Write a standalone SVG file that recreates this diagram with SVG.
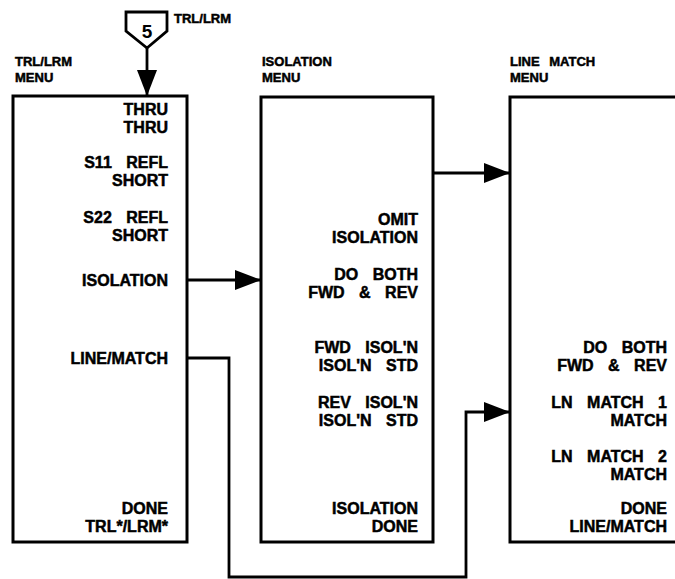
<svg xmlns="http://www.w3.org/2000/svg" width="675" height="579" viewBox="0 0 675 579">
<defs>
<style>
.box{fill:none;stroke:#000;stroke-width:3}
.ln{fill:none;stroke:#000;stroke-width:2.8}
.t{font-family:"Liberation Sans",Arial,sans-serif;font-weight:bold;font-size:16px;text-anchor:end;word-spacing:10px;fill:#000;stroke:#000;stroke-width:0.5}
.ttl{font-family:"Liberation Sans",Arial,sans-serif;font-weight:bold;font-size:13px;word-spacing:6px;fill:#000;stroke:#000;stroke-width:0.5}
</style>
<marker id="ah" viewBox="0 0 26 20" refX="26" refY="10" markerWidth="26" markerHeight="20" markerUnits="userSpaceOnUse" orient="auto">
<path d="M0,0 L26,10 L0,20 Z" fill="#000"/>
</marker>
</defs>
<rect width="675" height="579" fill="#fff"/>

<g id="entry">
<path class="ln" d="M126,12 H167 V31 L147,48 L126,31 Z"/>
<text x="147" y="38" font-family="Liberation Sans,Arial,sans-serif" font-weight="bold" font-size="19" text-anchor="middle">5</text>
<text class="ttl" x="174" y="23" font-size="12">TRL/LRM</text>
</g>

<g id="trl-menu">
<text class="ttl" x="15" y="66">TRL/LRM</text>
<text class="ttl" x="15" y="82">MENU</text>
<rect class="box" x="13" y="96" width="174" height="446"/>
<text class="t" x="168" y="115">THRU</text>
<text class="t" x="168" y="133">THRU</text>
<text class="t" x="168" y="168">S11 REFL</text>
<text class="t" x="168" y="186">SHORT</text>
<text class="t" x="168" y="223">S22 REFL</text>
<text class="t" x="168" y="241">SHORT</text>
<text class="t" x="168" y="286">ISOLATION</text>
<text class="t" x="168" y="364">LINE/MATCH</text>
<text class="t" x="168" y="514">DONE</text>
<text class="t" x="168" y="532">TRL*/LRM*</text>
</g>

<g id="isolation-menu">
<text class="ttl" x="262" y="66">ISOLATION</text>
<text class="ttl" x="262" y="82">MENU</text>
<rect class="box" x="261" y="97" width="172" height="445"/>
<text class="t" x="418" y="225">OMIT</text>
<text class="t" x="418" y="243">ISOLATION</text>
<text class="t" x="418" y="280">DO BOTH</text>
<text class="t" x="418" y="298">FWD &amp; REV</text>
<text class="t" x="418" y="353">FWD ISOL'N</text>
<text class="t" x="418" y="371">ISOL'N STD</text>
<text class="t" x="418" y="408">REV ISOL'N</text>
<text class="t" x="418" y="426">ISOL'N STD</text>
<text class="t" x="418" y="514">ISOLATION</text>
<text class="t" x="418" y="532">DONE</text>
</g>

<g id="line-match-menu">
<text class="ttl" x="510" y="66">LINE MATCH</text>
<text class="ttl" x="510" y="82">MENU</text>
<path class="box" d="M680,97 H510 V542 H680"/>
<text class="t" x="667" y="353">DO BOTH</text>
<text class="t" x="667" y="371">FWD &amp; REV</text>
<text class="t" x="667" y="408">LN MATCH 1</text>
<text class="t" x="667" y="426">MATCH</text>
<text class="t" x="667" y="462">LN MATCH 2</text>
<text class="t" x="667" y="480">MATCH</text>
<text class="t" x="667" y="514">DONE</text>
<text class="t" x="667" y="532">LINE/MATCH</text>
</g>

<g id="connectors">
<path class="ln" d="M147,48 V96" marker-end="url(#ah)"/>
<path class="ln" d="M187,280 H261" marker-end="url(#ah)"/>
<path class="ln" d="M433,173 H510" marker-end="url(#ah)"/>
<path class="ln" d="M187,358 H229 V577 H466 V412 H510" marker-end="url(#ah)"/>
</g>
</svg>
